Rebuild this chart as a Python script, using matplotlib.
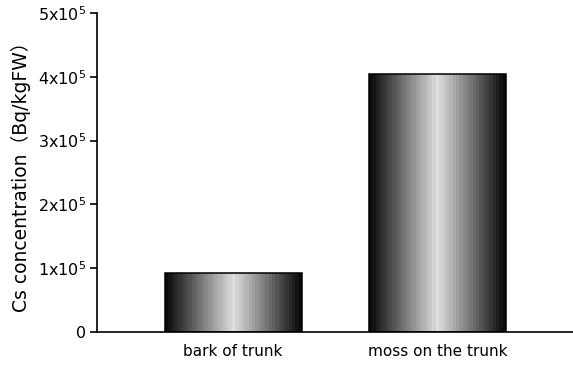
import numpy as np
import matplotlib
matplotlib.use("Agg")
import matplotlib.pyplot as plt

plt.rcParams['font.family'] = ['DejaVu Sans', 'Noto Sans CJK JP']

categories = ["bark of trunk", "moss on the trunk"]
values = [0.93e5, 4.04e5]
yticks = [0, 1e5, 2e5, 3e5, 4e5, 5e5]
yticklabels = ["0"] + [r"%dx10$^{5}$" % i for i in range(1, 6)]

fig = plt.figure(figsize=(5.73, 3.67), dpi=100)
ax = fig.add_axes([97/573, 1-332/367, (573-97)/573, 319/367])

x = np.arange(len(categories))
width = 0.67
bars = ax.bar(x, values, width=width, facecolor='none', edgecolor='black', linewidth=1.1, zorder=3)

# gradient fill: dark edges, light center (banded)
n = 41
t = np.linspace(-1, 1, n)
grad = 0.04 + 0.83 * (1 - np.abs(t))
grad = grad.reshape(1, -1)
for b in bars:
    x0, y0 = b.get_x(), b.get_y()
    w, h = b.get_width(), b.get_height()
    im = ax.imshow(grad, cmap='gray', vmin=0, vmax=1, aspect='auto',
                   extent=[x0, x0 + w, y0, y0 + h], interpolation='nearest', zorder=2)
    im.set_clip_path(b)

ax.set_xlim(-0.667, 1.665)
ax.set_ylim(0, 5e5)
ax.set_yticks(yticks)
ax.set_yticklabels(yticklabels, fontsize=11.5)
ax.set_xticks(x)
ax.set_xticklabels(categories, fontsize=11)
ax.tick_params(axis='x', length=0, pad=9)
ax.tick_params(axis='y', direction='out', length=5, width=1.2, pad=3)
for s in ['top', 'right']:
    ax.spines[s].set_visible(False)
for s in ['left', 'bottom']:
    ax.spines[s].set_linewidth(1.2)
ax.set_ylabel("Cs concentration（Bq/kgFW）", fontsize=13.5, labelpad=5)

fig.savefig("out.png", dpi=100)
